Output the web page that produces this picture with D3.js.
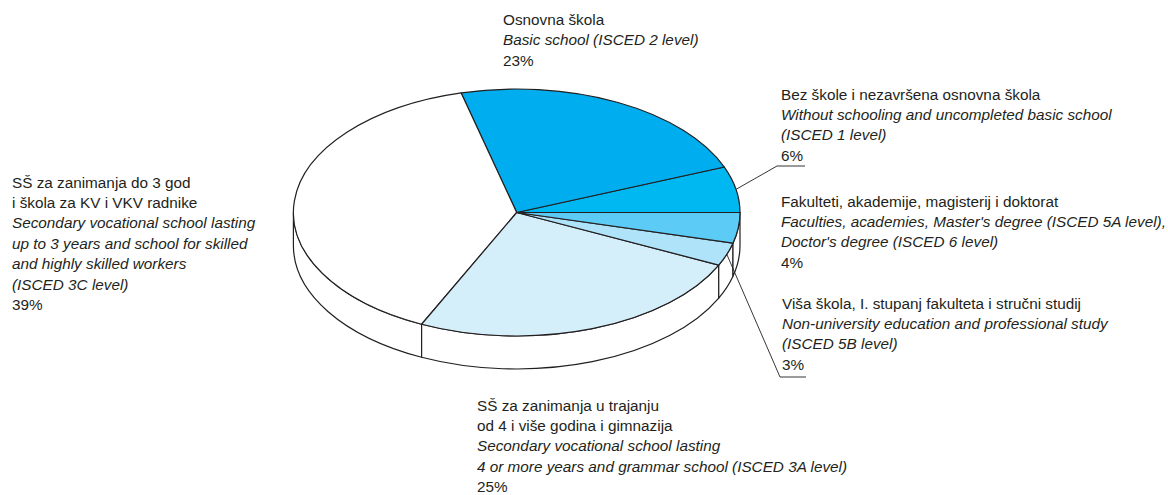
<!DOCTYPE html>
<html>
<head>
<meta charset="utf-8">
<script src="https://cdn.jsdelivr.net/npm/d3@7"></script>
<style>
  body { margin: 0; background: #fff; }
  svg { display: block; }
  text { font-family: "Liberation Sans", Arial, sans-serif; font-size: 15.3px; fill: #231f20; }
</style>
</head>
<body>
<svg id="chart"></svg>
<script>
// data, counterclockwise from 3 o'clock
const keys = ['bez', 'osnovna', 'ss3', 'ss4', 'visa', 'fakulteti'];
const shares = [6, 23, 39, 25, 3, 4];
const hrLabels = [
  ['Bez škole i nezavršena osnovna škola'],
  ['Osnovna škola'],
  ['SŠ za zanimanja do 3 god', 'i škola za KV i VKV radnike'],
  ['SŠ za zanimanja u trajanju', 'od 4 i više godina i gimnazija'],
  ['Viša škola, I. stupanj fakulteta i stručni studij'],
  ['Fakulteti, akademije, magisterij i doktorat']
];
const enLabels = [
  ['Without schooling and uncompleted basic school', '(ISCED 1 level)'],
  ['Basic school (ISCED 2 level)'],
  ['Secondary vocational school lasting', 'up to 3 years and school for skilled', 'and highly skilled workers', '(ISCED 3C level)'],
  ['Secondary vocational school lasting', '4 or more years and grammar school (ISCED 3A level)'],
  ['Non-university education and professional study', '(ISCED 5B level)'],
  ["Faculties, academies, Master's degree (ISCED 5A level),", "Doctor's degree (ISCED 6 level)"]
];
const colors = ['#00b8f1', '#00aeef', '#ffffff', '#d4eefa', '#aee3f9', '#5ccbf5'];

const W = 1168, H = 495;
const cx = 516.7, cy = 212.5, rx = 223.3, ry = 123.5, depth = 33;
const lineH = 20.4;

// label anchors (x, first baseline) and leader lines
const labelPos = {
  bez: { x: 781, y: 99.5, leader: [777, 166, 805] },
  osnovna: { x: 503, y: 25 },
  ss3: { x: 12, y: 187.5 },
  ss4: { x: 477, y: 410.5 },
  visa: { x: 782, y: 308.5, leader: [780, 377, 806] },
  fakulteti: { x: 781, y: 206.5 }
};

const svg = d3.select('#chart').attr('width', W).attr('height', H);
const g = svg.append('g');

const pie = d3.pie().sort(null).value(d => d.v)
  .startAngle(Math.PI / 2).endAngle(Math.PI / 2 - 2 * Math.PI);
const arcs = pie(keys.map((k, i) => ({ k, v: shares[i], i })));

const pt = (a, dy = 0) => [cx + rx * Math.sin(a), cy - ry * Math.cos(a) + dy];

// side walls (front half only)
const fronts = [[Math.PI / 2, 3 * Math.PI / 2], [-3 * Math.PI / 2, -Math.PI / 2]];
arcs.forEach(d => {
  const s0 = Math.min(d.startAngle, d.endAngle), s1 = Math.max(d.startAngle, d.endAngle);
  fronts.forEach(([f0, f1]) => {
    const lo = Math.max(s0, f0), hi = Math.min(s1, f1);
    if (hi - lo < 1e-4) return;
    const a = pt(lo), b = pt(hi), b2 = pt(hi, depth), a2 = pt(lo, depth);
    g.append('path')
      .attr('d', `M${a}A${rx},${ry} 0 0 1 ${b}L${b2}A${rx},${ry} 0 0 0 ${a2}Z`)
      .attr('fill', '#fff')
      .attr('stroke', '#231f20')
      .attr('stroke-width', 1.2)
      .attr('stroke-linejoin', 'round');
  });
});

// top faces
arcs.forEach(d => {
  const a = pt(d.startAngle), b = pt(d.endAngle);
  const large = Math.abs(d.endAngle - d.startAngle) > Math.PI ? 1 : 0;
  g.append('path')
    .attr('d', `M${cx},${cy}L${a}A${rx},${ry} 0 ${large} 0 ${b}Z`)
    .attr('fill', colors[d.data.i])
    .attr('stroke', '#231f20')
    .attr('stroke-width', 1.2)
    .attr('stroke-linejoin', 'round');
});

// labels
arcs.forEach(d => {
  const i = d.data.i, p = labelPos[d.data.k];
  const t = g.append('text').attr('x', p.x).attr('y', p.y);
  const lines = [];
  hrLabels[i].forEach(s => lines.push({ s, it: false }));
  enLabels[i].forEach(s => lines.push({ s, it: true }));
  lines.push({ s: shares[i] + '%', it: false });
  lines.forEach((l, j) => {
    t.append('tspan')
      .attr('x', p.x)
      .attr('dy', j === 0 ? 0 : lineH)
      .style('font-style', l.it ? 'italic' : 'normal')
      .text(l.s);
  });
  if (p.leader) {
    const mid = (d.startAngle + d.endAngle) / 2;
    const m = pt(mid);
    const [lx, ly, ex] = p.leader;
    g.append('path')
      .attr('d', `M${m}L${lx},${ly}L${ex},${ly}`)
      .attr('fill', 'none')
      .attr('stroke', '#231f20')
      .attr('stroke-width', 0.9);
  }
});
</script>
</body>
</html>
